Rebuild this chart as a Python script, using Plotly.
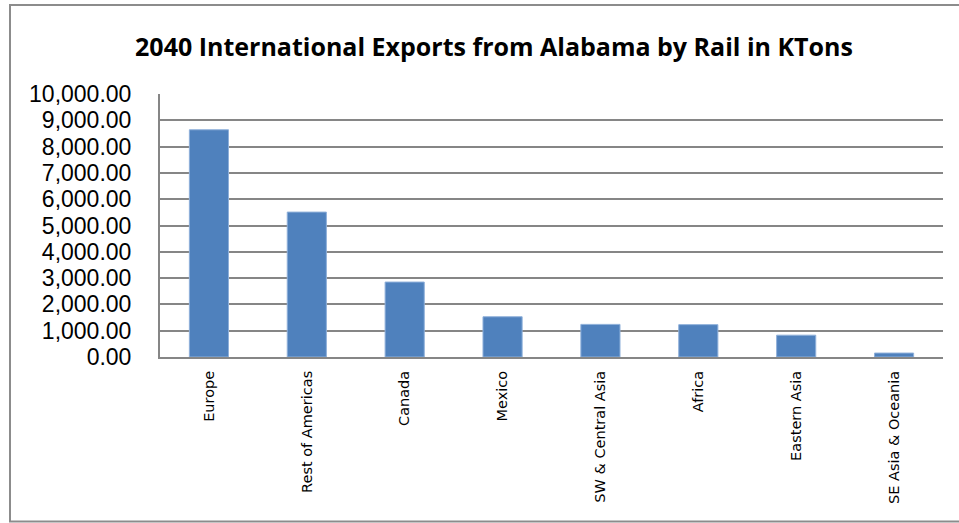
import plotly.graph_objects as go

categories = ["Europe", "Rest of Americas", "Canada", "Mexico",
              "SW & Central Asia", "Africa", "Eastern Asia", "SE Asia & Oceania"]
values = [8640, 5510, 2850, 1530, 1240, 1230, 830, 150]
y_ticks = list(range(0, 10001, 1000))
y_tick_labels = [f"{v:,.2f}" for v in y_ticks]
title_text = "2040 International Exports from Alabama by Rail in KTons"

W, H = 959, 523
L, R, T, B = 160, 16, 94, 166
pw, ph = W - L - R, H - T - B

def px_x(p):
    return (p - L) / pw

def px_y(p):
    return (H - B - p) / ph

fig = go.Figure(go.Bar(
    x=categories, y=values,
    marker=dict(color="#4F81BD", line=dict(color="#8FB0DA", width=1)),
    width=0.4,
))

fig.update_layout(
    width=W, height=H,
    margin=dict(l=L, r=R, t=T, b=B),
    paper_bgcolor="white", plot_bgcolor="white",
    showlegend=False,
    title=dict(text=f"<b>{title_text}</b>", x=494 / W, xref="container", xanchor="center",
               y=1 - 47 / H, yref="container", yanchor="middle",
               font=dict(family="Open Sans", size=25, color="black")),
    bargap=0.6,
    shapes=[dict(type="rect", xref="paper", yref="paper",
                 x0=px_x(10), x1=px_x(975), y0=px_y(521.5), y1=px_y(5),
                 line=dict(color="#8C8C8C", width=2), fillcolor="rgba(0,0,0,0)", layer="below")],
)

fig.update_yaxes(
    range=[0, 10000], tickvals=y_ticks, ticktext=y_tick_labels,
    showgrid=True, gridcolor="#868686", gridwidth=2,
    showline=True, linecolor="#868686", linewidth=2,
    zeroline=False, ticks="", ticklabelstandoff=22,
    tickfont=dict(family="Liberation Sans", size=23, color="black"),
)
fig.update_xaxes(
    tickangle=-90, showline=True, linecolor="#868686", linewidth=2,
    ticks="", ticklabelstandoff=6,
    tickfont=dict(family="DejaVu Sans", size=14.5, color="black"),
)

fig.write_html("out.html", config={"displayModeBar": False},
               post_script="document.body.style.margin='0';document.body.style.overflow='hidden';")
